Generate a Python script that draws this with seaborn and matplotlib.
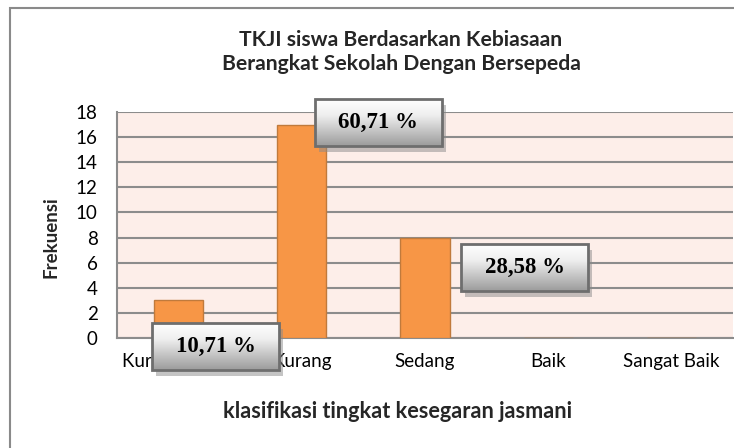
import numpy as np
import matplotlib
matplotlib.use("Agg")
import matplotlib.pyplot as plt
from matplotlib.patches import Rectangle
from matplotlib.colors import LinearSegmentedColormap
import seaborn as sns

# data
kategori = ["Kurang Sekali", "Kurang", "Sedang", "Baik", "Sangat Baik"]
frekuensi = [3, 17, 8, 0, 0]
persen = ["10,71 %", "60,71 %", "28,58 %", None, None]
y_ticks = list(range(0, 19, 2))

# where each % box sits relative to its bar (data units)
box_offset = [(0.30, -3.68), (0.62, 0.16), (0.81, -2.4), None, None]

sns.set_theme(style="white")
plt.rcParams["font.family"] = ["Lato", "DejaVu Sans"]

W, H = 734, 448
fig = plt.figure(figsize=(W / 100, H / 100), dpi=100)
ax = fig.add_axes([117 / W, 1 - 338 / H, 616 / W, 226 / H])
ax.set_facecolor("#fdeee9")

sns.barplot(x=kategori, y=frekuensi, color="#f79646", saturation=1, width=0.4,
            edgecolor="#c07a3c", linewidth=1, zorder=3, ax=ax)

ax.set_axisbelow(True)
ax.yaxis.grid(True, color="#8c8c8c", linewidth=1.5)
ax.xaxis.grid(False)
ax.set_yticks(y_ticks)
for s in ["top", "right"]:
    ax.spines[s].set_visible(False)
for s in ["left", "bottom"]:
    ax.spines[s].set_color("#8c8c8c")
    ax.spines[s].set_linewidth(1.5)
ax.tick_params(axis="x", length=0, pad=11, labelsize=13.5, labelcolor="black")
ax.tick_params(axis="y", length=0, pad=14, labelsize=13.5, labelcolor="black")
ax.set_xlabel("")
ax.set_ylabel("")

# gradient label boxes
cmap = LinearSegmentedColormap.from_list("grad", [(0, "#ffffff"), (0.35, "#eeeeee"), (1, "#9c9c9c")])
grad = np.linspace(0, 1, 100).reshape(-1, 1)
px_x = 5 / 616
px_y = 18 / 226
bw, bh = 127 * px_x, 47 * px_y
for i, (v, txt, off) in enumerate(zip(frekuensi, persen, box_offset)):
    if txt is None:
        continue
    cx, cy = i + off[0], v + off[1]
    x0, y0 = cx - bw / 2, cy - bh / 2
    ax.add_patch(Rectangle((x0 + 4 * px_x, y0 - 6 * px_y), bw, bh, facecolor="#8a8a8a",
                           alpha=0.5, edgecolor="none", clip_on=False, zorder=5))
    ax.imshow(grad, cmap=cmap, extent=[x0, x0 + bw, y0, y0 + bh], aspect="auto",
              clip_on=False, zorder=6, interpolation="bilinear")
    ax.add_patch(Rectangle((x0, y0), bw, bh, facecolor="none", edgecolor="#6e6e6e",
                           linewidth=2, clip_on=False, zorder=7))
    ax.text(cx, cy, txt, ha="center", va="center", fontsize=16.5, fontweight="bold",
            family="Liberation Serif", color="black", zorder=8)

ax.set_xlim(-0.5, 4.5)
ax.set_ylim(0, 18)

# chart area border
fig.add_artist(Rectangle((10 / W, -0.1), 1.2, 1.1 - 8 / H, transform=fig.transFigure,
                         fill=False, edgecolor="#8a8a8a", linewidth=1.5))

fig.text(401 / W, 1 - 52 / H, "TKJI siswa Berdasarkan Kebiasaan\nBerangkat Sekolah Dengan Bersepeda",
         ha="center", va="center", fontsize=15.2, fontweight="bold", linespacing=1.2)
fig.text(397 / W, 1 - 411 / H, "klasifikasi tingkat kesegaran jasmani",
         ha="center", va="center", fontsize=15.6, fontweight="bold")
fig.text(51 / W, 1 - 237 / H, "Frekuensi", rotation=90,
         ha="center", va="center", fontsize=13.5, fontweight="bold")

fig.savefig("out.png", dpi=100)
